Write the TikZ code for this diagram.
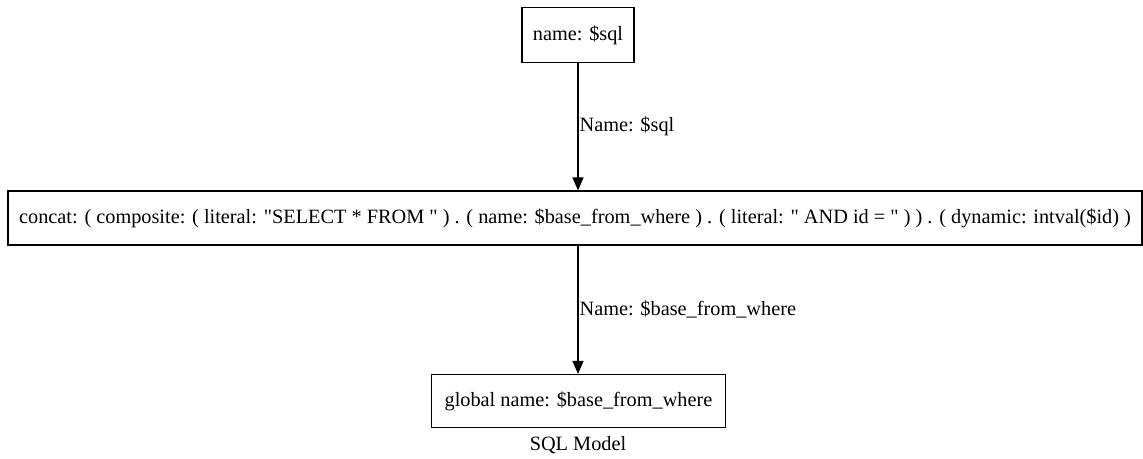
\documentclass[tikz,border=0pt]{standalone}
\usepackage{fontspec}
\setmainfont{Liberation Serif}[Ligatures=TeXOff]
\usetikzlibrary{arrows.meta}
\begin{document}
\begin{tikzpicture}[x=1pt,y=-1pt,
  box/.style={draw,line width=1.2pt,inner sep=0pt,align=center,
    font=\fontsize{20.3}{24}\selectfont},
  lbl/.style={inner sep=0pt,anchor=west,font=\fontsize{20.3}{24}\selectfont},
  edge/.style={line width=1.2pt,-{Triangle[length=13pt,width=11pt]}}]
\useasboundingbox (0,0) rectangle (1143,458);
\node[box,minimum width=112pt,minimum height=55pt] (top) at (578,35) {name: \$sql};
\node[box,minimum width=1134pt,minimum height=54pt] (mid) at (575,218)
  {concat: ( composite: ( literal: "SELECT * FROM " ) . ( name: \$base\_from\_where ) . ( literal: " AND id = " ) ) . ( dynamic: intval(\$id) )};
\node[box,minimum width=294pt,minimum height=53pt] (bot) at (578.5,401) {global name: \$base\_from\_where};
\node[inner sep=0pt,font=\fontsize{20.3}{24}\selectfont] (cap) at (578,445) {SQL Model};
\draw[edge] (top.south) -- (top.south |- mid.north)
  node[lbl,pos=0.5,xshift=1pt] (l1) {Name: \$sql};
\draw[edge] (top.south |- mid.south) -- (top.south |- bot.north)
  node[lbl,pos=0.5,xshift=1pt] (l2) {Name: \$base\_from\_where};
\end{tikzpicture}
\end{document}
